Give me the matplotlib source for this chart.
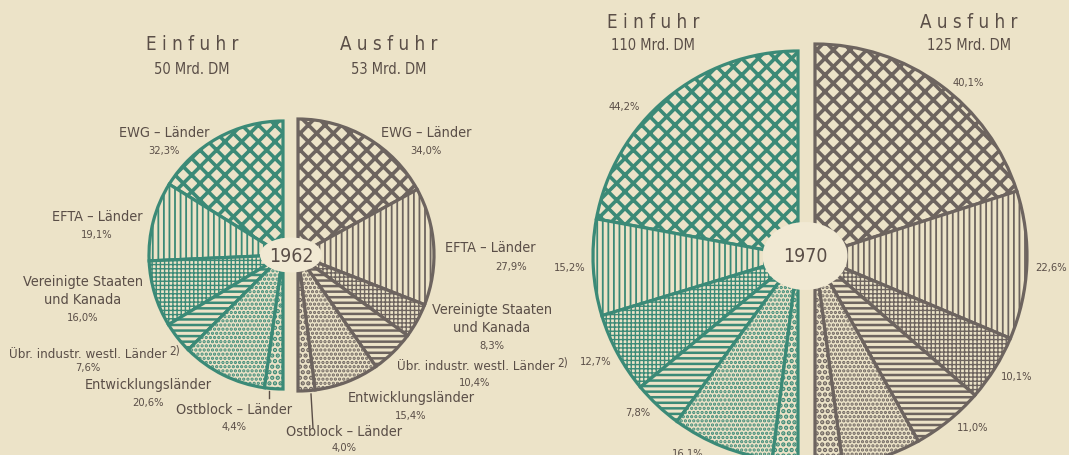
import matplotlib.pyplot as plt
import matplotlib.patches as mpatches
from matplotlib import font_manager as fm
import numpy as np

# ---------------------------------------------------------
# data (shares in %)
categories = ["EWG", "EFTA", "USA/Kanada", "Uebr. westl.", "Entwicklung", "Ostblock"]
ein_1962 = [32.3, 19.1, 16.0, 7.6, 20.6, 4.4]
aus_1962 = [34.0, 27.9, 8.3, 10.4, 15.4, 4.0]
ein_1970 = [44.2, 15.2, 12.7, 7.8, 16.1, 4.0]
aus_1970 = [40.1, 22.6, 10.1, 11.0, 12.0, 4.2]
totals = {"1962": (50, 53), "1970": (110, 125)}
# ---------------------------------------------------------

W, H = 1069, 455
BG = "#ece3c8"
LIGHT = "#f1e9d3"
GREEN = "#3b8a77"
GREY = "#6d645f"
TXT = "#5a4e47"

hatches = ["xx", "|||", "++++", "---", "....", "..."]
hatch_lw = [2.6, 1.3, 1.0, 1.8, 1.6, 2.2]

# look for a narrow/condensed sans face, the original lettering is condensed
cond = None
best = 99
for f in fm.fontManager.ttflist:
    if f.style != "normal" or f.weight not in (400, "normal", "regular", "book"):
        continue
    if "Mono" in f.name or "Serif" in f.name or "Sans" not in f.name:
        continue
    if "Narrow" in f.name or "Condensed" in f.name or f.stretch in ("condensed", "semi-condensed"):
        rank = 0 if "Liberation" in f.name else 1
        if rank < best:
            best, cond = rank, f.fname

SCALE = 1.0
if cond is None:
    SCALE = 0.8

LAB = 10.4   # category label size
PCT = 8      # percentage size


def fp(size):
    if cond:
        return fm.FontProperties(fname=cond, size=size)
    return fm.FontProperties(family="DejaVu Sans", size=size * SCALE)


fig = plt.figure(figsize=(W / 100, H / 100), dpi=100, facecolor=BG)
ax = fig.add_axes([0, 0, 1, 1])
ax.set_xlim(0, W)
ax.set_ylim(0, H)
ax.axis("off")
ax.set_facecolor(BG)


def Y(y):
    return H - y


def txt(x, y, s, size, **kw):
    kw.setdefault("ha", "center")
    kw.setdefault("va", "center")
    ax.text(x, Y(y), s, fontproperties=fp(size), color=TXT, **kw)


def half_pie(cx, cy, r, values, color, side):
    cum = np.concatenate([[0], np.cumsum(values)]) * 1.8
    for i, v in enumerate(values):
        if side == "left":
            t1, t2 = 90 + cum[i], 90 + cum[i + 1]
        else:
            t1, t2 = 90 - cum[i + 1], 90 - cum[i]
        with plt.rc_context({'hatch.linewidth': hatch_lw[i]}):
            w = mpatches.Wedge((cx, Y(cy)), r, t1, t2, facecolor=BG,
                               edgecolor=color, hatch=hatches[i], lw=2.3)
            if hasattr(w, "set_hatch_linewidth"):
                w.set_hatch_linewidth(hatch_lw[i])
            ax.add_patch(w)


# 1962
half_pie(283, 255, 134, ein_1962, GREEN, "left")
half_pie(298, 255, 136, aus_1962, GREY, "right")
ax.add_patch(mpatches.Ellipse((291, Y(255)), 62, 35, facecolor=LIGHT, edgecolor="none", zorder=3))
ax.text(291, Y(256), "1962", fontproperties=fp(14), color=TXT, ha="center", va="center", zorder=4)

# 1970
half_pie(798, 256, 205, ein_1970, GREEN, "left")
half_pie(815, 256, 212, aus_1970, GREY, "right")
ax.add_patch(mpatches.Ellipse((805, Y(256)), 85, 68, facecolor=LIGHT, edgecolor="none", zorder=3))
ax.text(805, Y(256), "1970", fontproperties=fp(14), color=TXT, ha="center", va="center", zorder=4)


# headings
def head(x, y, t, total):
    txt(x, y, t, 13.5)
    txt(x, y + 24, f"{total} Mrd. DM", 10.5)


head(192, 45, "E i n f u h r", totals["1962"][0])
head(389, 45, "A u s f u h r", totals["1962"][1])
head(653, 22, "E i n f u h r", totals["1970"][0])
head(969, 22, "A u s f u h r", totals["1970"][1])


def pct(v):
    return f"{v:.1f}%".replace(".", ",")


def lab(x, y, name, v, dy=18):
    lines = name.split("\n")
    for k, ln in enumerate(lines):
        txt(x, y + k * 18, ln, LAB)
    txt(x, y + (len(lines) - 1) * 18 + dy, pct(v), PCT)


# 1962 Einfuhr labels
lab(164, 133, "EWG – Länder", ein_1962[0])
lab(97, 217, "EFTA – Länder", ein_1962[1])
lab(83, 282, "Vereinigte Staaten\nund Kanada", ein_1962[2])
txt(167, 355, "Übr. industr. westl. Länder", 9.6, ha="right")
txt(169, 351, "2)", 8.5, ha="left")
txt(88, 368, pct(ein_1962[3]), PCT)
lab(148, 385, "Entwicklungsländer", ein_1962[4])
lab(234, 410, "Ostblock – Länder", ein_1962[5], dy=17)
ax.plot([269, 269], [Y(391), Y(398)], color=TXT, lw=1)

# 1962 Ausfuhr labels
lab(426, 133, "EWG – Länder", aus_1962[0])
txt(490, 248, "EFTA – Länder", LAB)
txt(511, 267, pct(aus_1962[1]), PCT)
lab(492, 310, "Vereinigte Staaten\nund Kanada", aus_1962[2])
txt(555, 367, "Übr. industr. westl. Länder", 9.6, ha="right")
txt(557, 363, "2)", 8.5, ha="left")
txt(475, 383, pct(aus_1962[3]), PCT)
lab(411, 398, "Entwicklungsländer", aus_1962[4])
lab(344, 432, "Ostblock – Länder", aus_1962[5], dy=16)
ax.plot([311, 313], [Y(394), Y(428)], color=TXT, lw=1)

# 1970 percentages
pos_ein70 = [(624, 107), (570, 268), (596, 362), (638, 413), (688, 454)]
pos_aus70 = [(968, 83), (1051, 268), (1017, 377), (973, 428)]
for (x, y), v in zip(pos_ein70, ein_1970):
    txt(x, y, pct(v), PCT)
for (x, y), v in zip(pos_aus70, aus_1970):
    txt(x, y, pct(v), PCT)

fig.savefig("out.png", dpi=100, facecolor=BG)
